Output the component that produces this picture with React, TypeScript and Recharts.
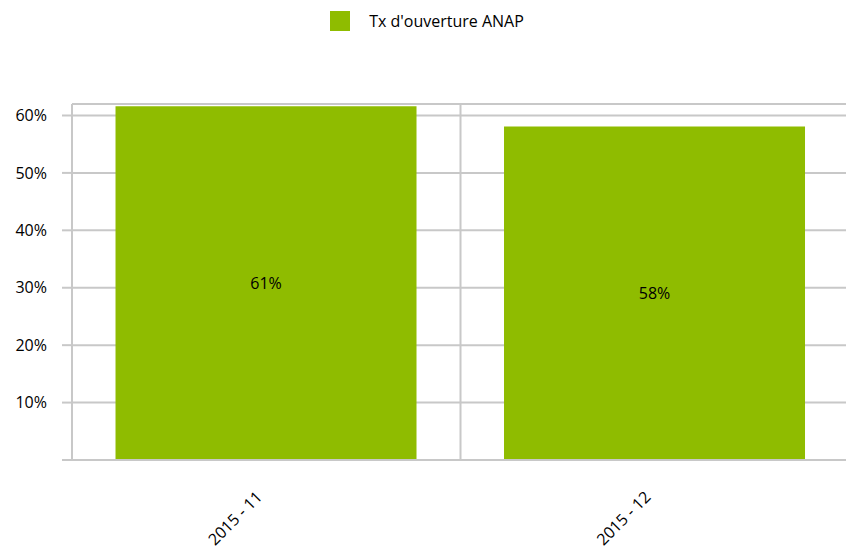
import React from 'react';
import { BarChart, Bar, XAxis, YAxis, CartesianGrid, Legend, LabelList } from 'recharts';

const months = ['2015 - 11', '2015 - 12'];
const openRate = [0.616, 0.581];
const rateLabels = ['61%', '58%'];
const yTicks = [0, 0.1, 0.2, 0.3, 0.4, 0.5, 0.6];

const data = months.map((m, i) => ({ month: m, rate: openRate[i], label: rateLabels[i] }));

const GRID = '#c8c8c8';
const GREEN = '#8fbc00';
const FONT = '"Open Sans", sans-serif';

const LegendBox = () => (
  <div style={{ display: 'flex', alignItems: 'center', justifyContent: 'center', fontFamily: FONT, fontSize: 16, color: '#000', paddingLeft: 8 }}>
    <span style={{ display: 'inline-block', width: 20, height: 20, background: GREEN, marginRight: 19 }} />
    <span>Tx d'ouverture ANAP</span>
  </div>
);

const MonthTick = (props: any) => {
  const { x, y, payload } = props;
  const ax = x - 3;
  const ay = y + 30;
  return (
    <text
      x={ax}
      y={ay}
      transform={`rotate(-45, ${ax}, ${ay})`}
      textAnchor="end"
      fontFamily={FONT}
      fontSize={16}
      fill="#000"
    >
      {payload.value}
    </text>
  );
};

export default function App() {
  return (
    <div style={{ position: 'absolute', left: 0, top: 0 }}>
      <BarChart
        width={846}
        height={551}
        data={data}
        margin={{ top: 82, right: -3, bottom: 0, left: 0 }}
        barCategoryGap="11.2%"
      >
        <Legend
          layout="vertical"
          verticalAlign="top"
          align="center"
          wrapperStyle={{ top: 10, left: 0, width: 846 }}
          content={<LegendBox />}
        />
        <CartesianGrid
          stroke={GRID}
          strokeWidth={2}
          verticalCoordinatesGenerator={({ offset }: any) => [
            offset.left,
            offset.left + offset.width / 2,
            offset.left + offset.width,
          ]}
        />
        <XAxis
          dataKey="month"
          axisLine={{ stroke: GRID, strokeWidth: 2 }}
          tickLine={false}
          height={91}
          tick={<MonthTick />}
          interval={0}
        />
        <YAxis
          width={72}
          domain={[0, 0.62]}
          ticks={yTicks}
          tickFormatter={(v: number) => (v === 0 ? '' : `${Math.round(v * 100)}%`)}
          axisLine={{ stroke: GRID, strokeWidth: 2 }}
          tickLine={{ stroke: GRID, strokeWidth: 2 }}
          tickSize={10}
          tickMargin={15}
          tick={{ fill: '#000', fontSize: 16, fontFamily: FONT }}
        />
        <Bar dataKey="rate" fill={GREEN} isAnimationActive={false}>
          <LabelList dataKey="label" position="center" fill="#000" fontSize={16} fontFamily={FONT} />
        </Bar>
      </BarChart>
    </div>
  );
}
